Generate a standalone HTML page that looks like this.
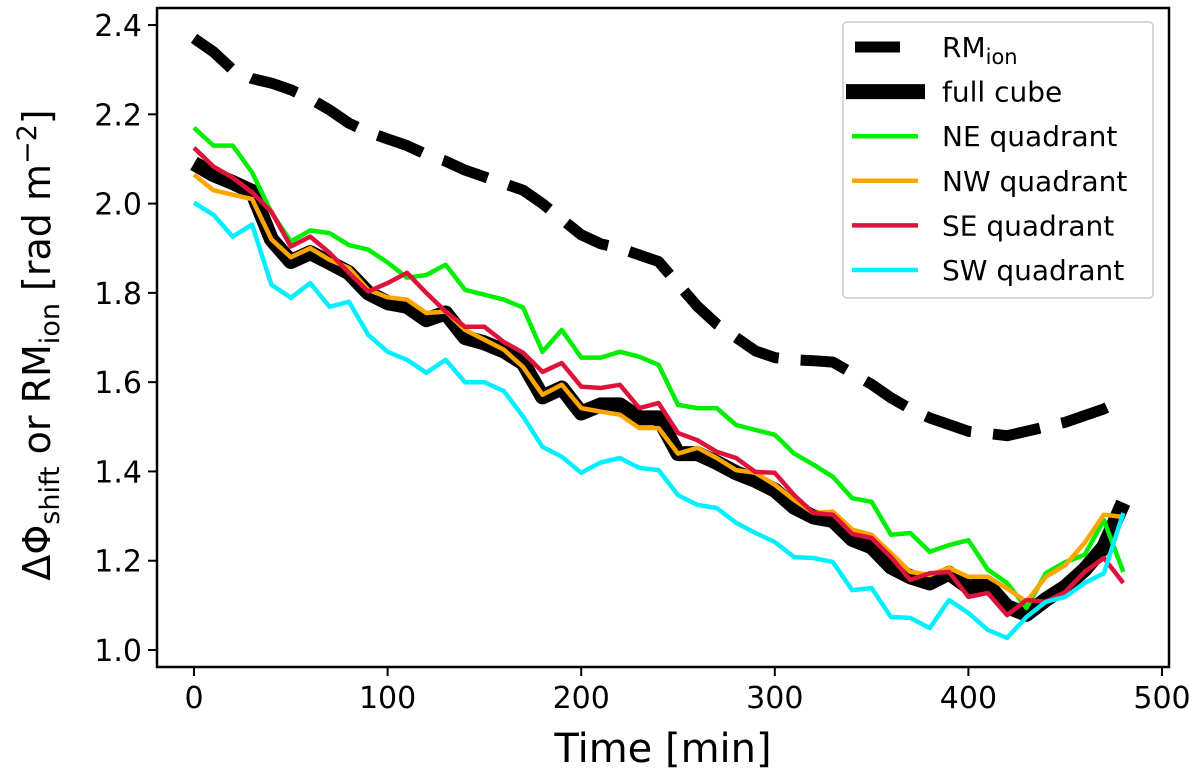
<!DOCTYPE html>
<html><head><meta charset="utf-8"><style>
html,body{margin:0;padding:0;background:#fff;}
svg{display:block;font-family:"DejaVu Sans","Liberation Sans",sans-serif;}
</style></head><body>
<svg id="chart" width="1200" height="783" viewBox="0 0 1200 783" xmlns="http://www.w3.org/2000/svg">
<g id="plot"></g>
<g id="axes"></g>
<g id="legend"></g>
<text x="663" y="762" font-size="40" text-anchor="middle">Time [min]</text>
<text transform="translate(50,345) rotate(-90)" font-size="38" text-anchor="middle">ΔΦ<tspan font-size="27" dy="9">shift</tspan><tspan dy="-9"> or RM</tspan><tspan font-size="27" dy="9">ion</tspan><tspan dy="-9"> [rad m</tspan><tspan font-size="27" dy="-14">−2</tspan><tspan dy="14">]</tspan></text>
</svg>
<script>
const times = [0,10,20,30,40,50,60,70,80,90,100,110,120,130,140,150,160,170,180,190,200,210,220,230,240,250,260,270,280,290,300,310,320,330,340,350,360,370,380,390,400,410,420,430,440,450,460,470,480];
const rmIon = [2.37,2.34,2.30,2.28,2.27,2.255,2.235,2.21,2.18,2.16,2.145,2.13,2.11,2.095,2.075,2.06,2.045,2.03,2.00,1.965,1.93,1.91,1.90,1.885,1.87,1.82,1.77,1.73,1.70,1.67,1.655,1.65,1.648,1.645,1.62,1.595,1.565,1.54,1.52,1.505,1.49,1.485,1.48,1.49,1.50,1.51,1.525,1.54,1.56];
const fullCube = [2.09,2.065,2.047,2.027,1.92,1.87,1.89,1.868,1.845,1.80,1.778,1.77,1.74,1.755,1.70,1.688,1.67,1.643,1.567,1.587,1.531,1.549,1.549,1.52,1.52,1.44,1.44,1.42,1.397,1.38,1.358,1.32,1.298,1.29,1.248,1.231,1.186,1.164,1.15,1.172,1.141,1.146,1.097,1.08,1.113,1.141,1.18,1.231,1.33];
const neQuad = [2.17,2.13,2.13,2.07,1.98,1.915,1.94,1.934,1.907,1.897,1.868,1.834,1.84,1.863,1.807,1.796,1.785,1.767,1.668,1.717,1.655,1.655,1.668,1.657,1.639,1.549,1.542,1.542,1.504,1.493,1.482,1.44,1.415,1.388,1.34,1.332,1.258,1.262,1.22,1.235,1.246,1.18,1.15,1.094,1.172,1.197,1.213,1.291,1.175];
const nwQuad = [2.065,2.03,2.02,2.01,1.92,1.88,1.90,1.874,1.856,1.807,1.79,1.785,1.755,1.758,1.717,1.695,1.673,1.634,1.572,1.594,1.542,1.534,1.527,1.497,1.497,1.44,1.453,1.43,1.403,1.397,1.37,1.336,1.307,1.31,1.27,1.258,1.217,1.175,1.168,1.184,1.164,1.164,1.138,1.108,1.164,1.19,1.24,1.303,1.298];
const seQuad = [2.125,2.083,2.058,2.025,1.982,1.904,1.926,1.89,1.845,1.803,1.822,1.845,1.80,1.758,1.724,1.724,1.69,1.666,1.623,1.643,1.59,1.587,1.594,1.542,1.553,1.486,1.47,1.444,1.43,1.399,1.397,1.347,1.307,1.303,1.26,1.251,1.208,1.157,1.172,1.175,1.119,1.128,1.078,1.112,1.108,1.13,1.175,1.206,1.15];
const swQuad = [2.002,1.975,1.926,1.953,1.818,1.789,1.822,1.769,1.78,1.706,1.668,1.65,1.621,1.65,1.60,1.60,1.58,1.523,1.455,1.433,1.397,1.42,1.43,1.408,1.403,1.347,1.325,1.318,1.285,1.262,1.242,1.208,1.206,1.197,1.134,1.139,1.074,1.072,1.049,1.112,1.083,1.045,1.027,1.074,1.108,1.119,1.15,1.172,1.307];
const xTicks = [0,100,200,300,400,500];
const yTicks = [1.0,1.2,1.4,1.6,1.8,2.0,2.2,2.4];
const legendLabels = ["RM","full cube","NE quadrant","NW quadrant","SE quadrant","SW quadrant"];

const NS="http://www.w3.org/2000/svg";
const L=157,R=1169,T=8,B=667;
function xs(t){return 194+t*1.936;}
function ys(v){return 650-(v-1.0)*446.4;}
function mk(tag,attrs,parent){const e=document.createElementNS(NS,tag);for(const k in attrs)e.setAttribute(k,attrs[k]);parent.appendChild(e);return e;}
const plot=document.getElementById('plot'),axes=document.getElementById('axes'),legend=document.getElementById('legend');
const series=[
 {d:rmIon,c:'#000',w:11,dash:'48 22',name:'rm-ion-line'},
 {d:fullCube,c:'#000',w:15,dash:null,name:'full-cube-line'},
 {d:neQuad,c:'#00ee00',w:4.5,dash:null,name:'ne-quadrant-line'},
 {d:nwQuad,c:'#ffa500',w:4.5,dash:null,name:'nw-quadrant-line'},
 {d:seQuad,c:'#dc143c',w:4.5,dash:null,name:'se-quadrant-line'},
 {d:swQuad,c:'#00f0ff',w:4.5,dash:null,name:'sw-quadrant-line'}];
series.forEach(s=>{
 const pts=s.d.map((v,i)=>xs(times[i]).toFixed(1)+','+ys(v).toFixed(1)).join(' ');
 const a={points:pts,fill:'none',stroke:s.c,'stroke-width':s.w,'stroke-linejoin':'round'};
 if(s.dash)a['stroke-dasharray']=s.dash;
 const p=mk('polyline',a,plot);
 
 
});
const frame=mk('rect',{x:L,y:T,width:R-L,height:B-T,fill:'none',stroke:'#000','stroke-width':2.5},axes);


xTicks.forEach(t=>{
 const x=xs(t);
 mk('line',{x1:x,x2:x,y1:B,y2:B+9,stroke:'#000','stroke-width':2},axes);
 const tx=mk('text',{x:x,y:B+41,'font-size':30,'text-anchor':'middle'},axes);
 tx.textContent=t;
 
 
});
yTicks.forEach(v=>{
 const y=ys(v);
 mk('line',{x1:L-9,x2:L,y1:y,y2:y,stroke:'#000','stroke-width':2},axes);
 const tx=mk('text',{x:L-15,y:y+11,'font-size':30,'text-anchor':'end'},axes);
 tx.textContent=v.toFixed(1);
 
 
});
const box=mk('rect',{x:843,y:22,width:310,height:276,rx:4,fill:'#fff','fill-opacity':0.85,stroke:'#ccc','stroke-width':1.5},legend);


legendLabels.forEach((lab,i)=>{
 const y=47+i*44.6, s=series[i];
 const x1 = i===0?855:846, x2 = i===0?900:925;
 const ln=mk('line',{x1:i>=2?852:x1,x2:i>=2?918:x2,y1:y,y2:y,stroke:s.c,'stroke-width':i===0?11:(i===1?15:4.5)},legend);
 
 
 const tx=mk('text',{x:942,y:y+10,'font-size':28},legend);
 
 
 if(i===0){tx.textContent='RM';const ts=mk('tspan',{'font-size':21,dy:7},tx);ts.textContent='ion';}
 else tx.textContent=lab;
});
</script>
</body></html>
